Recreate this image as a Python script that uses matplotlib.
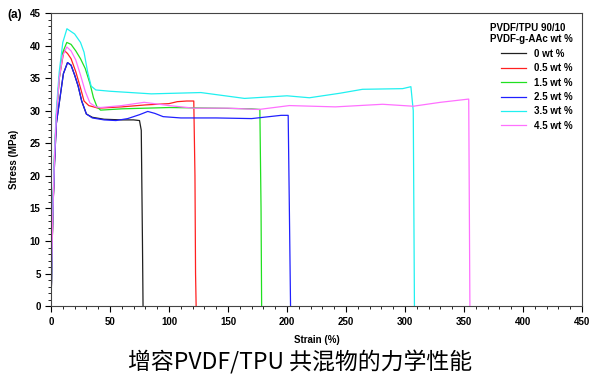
import matplotlib.pyplot as plt
from matplotlib.ticker import MultipleLocator

plt.rcParams['font.family'] = ['Liberation Sans', 'DejaVu Sans']

labels = ['0 wt %', '0.5 wt %', '1.5 wt %', '2.5 wt %', '3.5 wt %', '4.5 wt %']
colors = ['#202020', '#ff2020', '#20e020', '#2020ff', '#20f0f0', '#ff70ff']

strain_0 = [0, 1.5, 3, 4.5, 7.7, 10.5, 14, 17, 20, 23, 26, 30, 35, 45, 60, 70, 75, 76.5, 77.5, 78]
stress_0 = [0, 14, 22, 28, 32.1, 35.7, 37.4, 37, 35.5, 33.8, 31.5, 29.5, 29, 28.7, 28.6, 28.6, 28.5, 27, 10, 0]

strain_05 = [0, 1.5, 3, 4.5, 7, 11, 14, 17, 21, 25, 28, 32, 40, 60, 80, 100, 107, 115, 121, 122, 122.5, 123]
stress_05 = [0, 14, 23, 29, 35, 39.3, 38.8, 38, 36, 33.5, 31.5, 30.8, 30.4, 30.6, 30.9, 31.1, 31.4, 31.5, 31.5, 20, 5, 0]

strain_15 = [0, 1.5, 3, 4.5, 7, 10, 13.4, 17, 21, 25, 29, 33, 36, 39, 42, 60, 100, 140, 170, 177, 178, 178.5]
stress_15 = [0, 14, 23, 29, 35, 39, 40.5, 40.2, 39.2, 38, 36.5, 34.2, 32, 30.6, 30.1, 30.3, 30.5, 30.4, 30.3, 30.2, 15, 0]

strain_25 = [0, 1.5, 3, 4.5, 7.7, 10.5, 14, 17, 20, 23, 26, 30, 35, 45, 55, 65, 75, 82, 88, 95, 110, 140, 170, 195, 201, 202, 203]
stress_25 = [0, 14, 22, 28, 32.1, 35.7, 37.4, 37, 35.5, 33.8, 31.5, 29.5, 28.9, 28.6, 28.5, 28.8, 29.4, 29.9, 29.6, 29.1, 28.9, 28.9, 28.8, 29.3, 29.3, 15, 0]

strain_35 = [0, 1.5, 3, 4.5, 7, 10, 13.5, 20, 25, 28, 31, 34, 38, 50, 85, 127, 164, 200, 219, 245, 264, 298, 305, 307, 308]
stress_35 = [0, 15, 24, 30, 36, 40.5, 42.6, 41.8, 40.5, 39, 36, 33.8, 33.2, 33.0, 32.6, 32.8, 31.9, 32.3, 32.0, 32.7, 33.3, 33.4, 33.7, 30, 0]

strain_45 = [0, 1.5, 3, 4.5, 7, 10, 13.4, 17, 21, 25, 29, 33, 38, 42, 60, 79, 100, 121, 150, 176, 202, 241, 281, 307, 330, 354, 355]
stress_45 = [0, 14, 23, 29, 35, 38.5, 39.8, 39.2, 37.8, 35.5, 33, 31.2, 30.6, 30.5, 30.8, 31.3, 30.8, 30.4, 30.4, 30.2, 30.8, 30.6, 31.0, 30.7, 31.3, 31.8, 0]

strains = [strain_0, strain_05, strain_15, strain_25, strain_35, strain_45]
stresses = [stress_0, stress_05, stress_15, stress_25, stress_35, stress_45]

fig = plt.figure(figsize=(6, 3.86), dpi=100)
ax = fig.add_axes([0.085, 0.207, 0.885, 0.759])

for x, y, c, lab in zip(strains, stresses, colors, labels):
    ax.plot(x, y, color=c, lw=0.9, label=lab)

ax.set_xlim(0, 450)
ax.set_ylim(0, 45)
ax.xaxis.set_major_locator(MultipleLocator(50))
ax.xaxis.set_minor_locator(MultipleLocator(10))
ax.yaxis.set_major_locator(MultipleLocator(5))
ax.yaxis.set_minor_locator(MultipleLocator(1))
ax.tick_params(which='major', length=4, width=0.8, labelsize=7, direction='out')
ax.tick_params(which='minor', length=2, width=0.6, direction='out')
for t in ax.get_xticklabels() + ax.get_yticklabels():
    t.set_fontweight('bold')
for s in ax.spines.values():
    s.set_color('#444444')
    s.set_linewidth(0.8)

ax.set_xlabel('Strain (%)', fontsize=7, fontweight='bold', labelpad=6)
ax.set_ylabel('Stress (MPa)', fontsize=7, fontweight='bold', labelpad=8)
fig.text(0.012, 0.962, '(a)', fontsize=8.5, fontweight='bold', va='center')

leg = ax.legend(loc='upper right', frameon=False, prop={'weight': 'bold', 'size': 7},
                title='PVDF/TPU 90/10\nPVDF-g-AAc wt %', handlelength=2.6,
                alignment='right', labelspacing=0.45, borderaxespad=0.6)
leg.get_title().set_fontweight('bold')
leg.get_title().set_fontsize(7)
for t in leg.get_texts():
    t.set_ha('right')

fig.text(0.5, 0.062, '增容PVDF/TPU 共混物的力学性能', fontsize=16.5,
         family=['Noto Sans CJK SC', 'DejaVu Sans'], ha='center', va='center')

fig.savefig('out.png', dpi=100)
